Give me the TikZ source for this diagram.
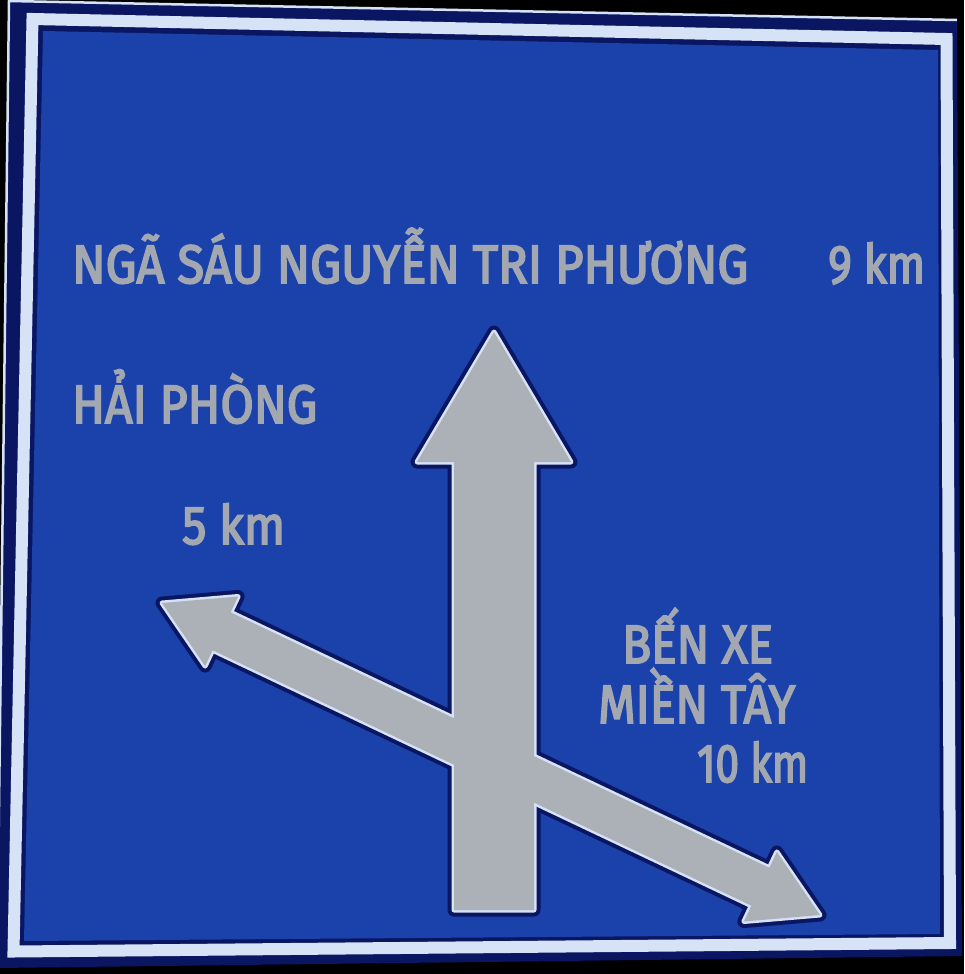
\documentclass[tikz,border=0pt]{standalone}
\usepackage{fontspec}
\setmainfont{Fira Sans}
\newfontfamily\segnofont{Fira Sans}[FakeBold=3.5]
\usepackage{graphicx}
\usetikzlibrary{calc}

\definecolor{blu}{RGB}{26,66,170}
\definecolor{notte}{RGB}{10,22,98}
\definecolor{bianco}{RGB}{214,226,246}
\definecolor{grigio}{RGB}{163,168,176}

\newcommand{\cartello}[2]{\resizebox{#1pt}{\height}{#2}}

\tikzset{
	scritta/.style={text=grigio, inner sep=0pt, anchor=base west, font=\fontsize{54}{54}\segnofont},
	ombra/.style={draw=notte, line width=13pt, line join=round},
	filo/.style={draw=bianco, line width=5pt, line join=round},
	pieno/.style={fill=grigio!90!white},
}

\begin{document}
\begin{tikzpicture}[x=1pt, y=-1pt]
		\fill[black] (0, 0) rectangle (964, 974);
		\useasboundingbox (0, 0) rectangle (964, 974);

		% cartello
		\coordinate (o1) at (9, 1);
		\coordinate (o2) at (957, 20);
		\coordinate (o3) at (962, 956);
		\coordinate (o4) at (-3, 968);
		\fill[notte] (o1) -- (o2) -- (o3) -- (o4) -- cycle;
		\draw[bianco, line width=2.5pt] (o4) -- (o1) -- (o2);
		\draw[bianco, line width=12pt, line join=miter] (32.5, 19) -- (946.5, 39) -- (950, 943) -- (13.5, 951.5) -- cycle;
		\fill[blu] (43, 31) -- (938, 50) -- (940, 934) -- (24, 941) -- cycle;

		% freccia dritta
		\coordinate (su) at (494, 332);
		\coordinate (su_sx) at (417, 462);
		\coordinate (su_dx) at (571, 462);
		\coordinate (fu_sx) at (454, 462);
		\coordinate (fu_dx) at (534, 462);
		\coordinate (base_sx) at (454, 910);
		\coordinate (base_dx) at (534, 910);

		% freccia obliqua
		\coordinate (ps) at (162, 603);
		\coordinate (pd) at (820, 915);
		\coordinate (ts) at ($(ps)!66pt!(pd)$);
		\coordinate (td) at ($(pd)!66pt!(ps)$);
		\coordinate (ts_a) at ($(ts)!38.5pt!90:(pd)$);
		\coordinate (ts_b) at ($(ts)!38.5pt!-90:(pd)$);
		\coordinate (gs_a) at ($(ts)!21pt!90:(pd)$);
		\coordinate (gs_b) at ($(ts)!21pt!-90:(pd)$);
		\coordinate (td_a) at ($(td)!38.5pt!-90:(ps)$);
		\coordinate (td_b) at ($(td)!38.5pt!90:(ps)$);
		\coordinate (gd_a) at ($(td)!21pt!-90:(ps)$);
		\coordinate (gd_b) at ($(td)!21pt!90:(ps)$);

		\foreach \strato in {ombra, filo, pieno} {
			\path[\strato] (ps) -- (ts_a) -- (gs_a) -- (gd_a) -- (td_a) -- (pd) -- (td_b) -- (gd_b) -- (gs_b) -- (ts_b) -- cycle;
			\path[\strato] (su) -- (su_dx) -- (fu_dx) -- (base_dx) -- (base_sx) -- (fu_sx) -- (su_sx) -- cycle;
		}

		% scritte
		\node[scritta] (nga) at (72, 283) {\cartello{676}{NGÃ SÁU NGUYỄN TRI PHƯƠNG}};
		\node[scritta] (km9) at (828, 283) {\cartello{97}{9 km}};
		\node[scritta] (hai) at (72, 423) {\cartello{245}{HẢI PHÒNG}};
		\node[scritta] (km5) at (182, 544) {\cartello{103}{5 km}};
		\node[scritta] (ben) at (622, 663) {\cartello{151}{BẾN XE}};
		\node[scritta] (mien) at (598, 723) {\cartello{197}{MIỀN TÂY}};
		\node[scritta] (km10) at (697, 782) {\cartello{111}{10 km}};
	\end{tikzpicture}
\end{document}
